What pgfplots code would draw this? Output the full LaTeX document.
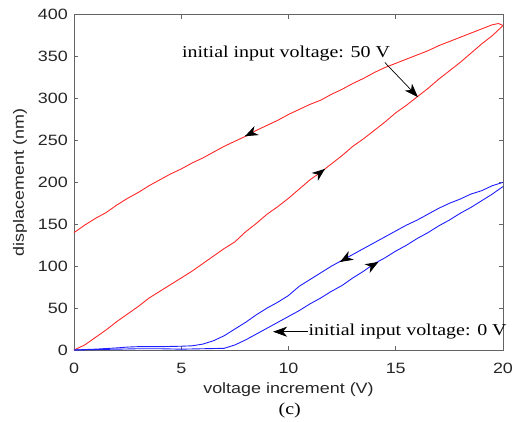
\documentclass[border=0pt]{standalone}
\usepackage{pgfplots}
\pgfplotsset{compat=1.18}
\usepackage{fontspec}
\setmainfont{Liberation Serif}[FakeStretch=1.2]
\setsansfont{Liberation Sans}[FakeStretch=1.2]
\usetikzlibrary{arrows.meta}
\definecolor{axgray}{RGB}{100,100,100}
\definecolor{mred}{RGB}{255,40,40}
\definecolor{mblue}{RGB}{30,30,255}
\begin{document}
\begin{tikzpicture}
\useasboundingbox (-74bp,-72bp) rectangle (444bp,350bp);
\begin{axis}[
  at={(0,0)}, anchor=south west,
  scale only axis, width=429bp, height=335.3bp,
  xmin=0, xmax=20, ymin=0, ymax=400,
  xtick={0,5,10,15,20}, ytick={0,50,...,400},
  tick align=inside, major tick length=4bp,
  axis line style={axgray, line width=0.8bp},
  tick style={axgray, line width=0.6bp},
  /pgf/number format/assume math mode=true,
  tick label style={font=\sffamily\fontsize{15}{15}\selectfont, text=black!85},
  xticklabel style={anchor=center, inner sep=0pt, yshift=-18bp},
  yticklabel style={anchor=east, inner sep=0pt, xshift=-6bp},
  label style={font=\sffamily\fontsize{15}{15}\selectfont, text=black!85},
  xlabel={voltage increment (V)},
  xlabel style={at={(axis description cs:0.5,-0.1193)}, anchor=center, inner sep=0pt},
  ylabel={displacement (nm)},
  ylabel style={at={(axis description cs:-0.126,0.5)}, anchor=center, inner sep=0pt},
  clip=false,
]
% red, ascending (initial 50 V)
\addplot[mred, line width=0.9bp] coordinates {
(0,0) (0.5,6) (1,15) (1.5,24) (2,34) (2.5,43) (3,52) (3.5,62) (4,70) (4.5,78) (5,86) (5.5,94) (6,103) (6.5,112) (7,121) (7.5,129) (8,141) (8.5,151) (9,162) (9.5,171) (10,181) (10.5,192) (11,203) (11.5,212) (12,222) (12.5,232) (13,243) (13.5,252) (14,262) (14.5,272) (15,283) (15.5,292) (16,302) (16.5,312) (17,323) (17.5,333) (18,343) (18.5,354) (19,365) (19.5,375) (20,387)};
% red, descending
\addplot[mred, line width=0.9bp] coordinates {
(20,387) (19.8,389.5) (19.5,388) (19,383) (18.5,378) (18,373) (17.5,368) (17,363) (16.5,357) (16,352) (15.5,347) (15,342) (14.5,337) (14,331) (13.5,324) (13,318) (12.5,311) (12,305) (11.5,298) (11,293) (10.5,287) (10,281) (9.5,274) (9,268) (8.5,262) (8,255) (7.5,249) (7,243) (6.5,236) (6,229) (5.5,223) (5,216) (4.5,210) (4,203) (3.5,196) (3,188) (2.5,181) (2,173) (1.5,164) (1,157) (0.5,149) (0,140)};
% blue, ascending (initial 0 V)
\addplot[mblue, line width=0.9bp] coordinates {
(0,0) (1,0.5) (2,1) (3,1.5) (4,1.5) (5,1) (6,1.5) (7,2) (7.5,6) (8,12) (8.5,19) (9,26) (9.5,33) (10,40) (10.5,47) (11,55) (11.5,62) (12,70) (12.5,77) (13,86) (13.5,94) (14,103) (14.5,110) (15,118) (15.5,125) (16,133) (16.5,140) (17,148) (17.5,155) (18,163) (18.5,170) (19,178) (19.5,186) (20,195)};
% blue, descending
\addplot[mblue, line width=0.9bp] coordinates {
(20,200) (19.5,196) (19,190) (18.5,186) (18,180) (17.5,175) (17,169) (16.5,162) (16,155) (15.5,149) (15,142) (14.5,135) (14,128) (13.5,121) (13,114) (12.5,107) (12,100) (11.5,92) (11,84) (10.5,76) (10,65) (9.5,57) (9,50) (8.5,42) (8,33) (7.5,25) (7,17) (6.5,11) (6,7) (5.5,5) (5,4.5) (4,4) (3,4) (2.5,3.5) (2,2.5) (1,1) (0,0)};
% direction arrowheads
\draw[-{Stealth[length=13bp,width=10bp,inset=4bp]}, line width=0.8bp] (axis cs:7.99,255.25) -- (axis cs:7.97,255);
\draw[-{Stealth[length=13bp,width=10bp,inset=4bp]}, line width=0.8bp] (axis cs:11.68,215.6) -- (axis cs:11.7,216);
\draw[-{Stealth[length=13bp,width=10bp,inset=4bp]}, line width=0.8bp] (axis cs:12.42,105.3) -- (axis cs:12.4,105);
\draw[-{Stealth[length=13bp,width=10bp,inset=4bp]}, line width=0.8bp] (axis cs:14.17,104.7) -- (axis cs:14.19,105);
% annotations
\draw[-{Stealth[length=14bp,width=10bp,inset=4bp]}, line width=0.7bp] (axis cs:14.49,343) -- (axis cs:16.04,301.5);
\draw[-{Stealth[length=14bp,width=10bp,inset=4bp]}, line width=0.7bp] (axis cs:10.91,21.8) -- (axis cs:9.28,21.8);
\node[anchor=west, inner sep=0pt, font=\rmfamily\fontsize{16.7}{16.7}\selectfont] at (axis cs:5.03,353.6) {initial input voltage: 50 V};
\node[anchor=west, inner sep=0pt, font=\rmfamily\fontsize{16.7}{16.7}\selectfont] at (axis cs:10.93,21.8) {initial input voltage: 0 V};
\node[anchor=center, inner sep=0pt, font=\rmfamily\fontsize{16.7}{16.7}\selectfont] at (axis description cs:0.503,-0.179) {(c)};
\end{axis}
\end{tikzpicture}
\end{document}
